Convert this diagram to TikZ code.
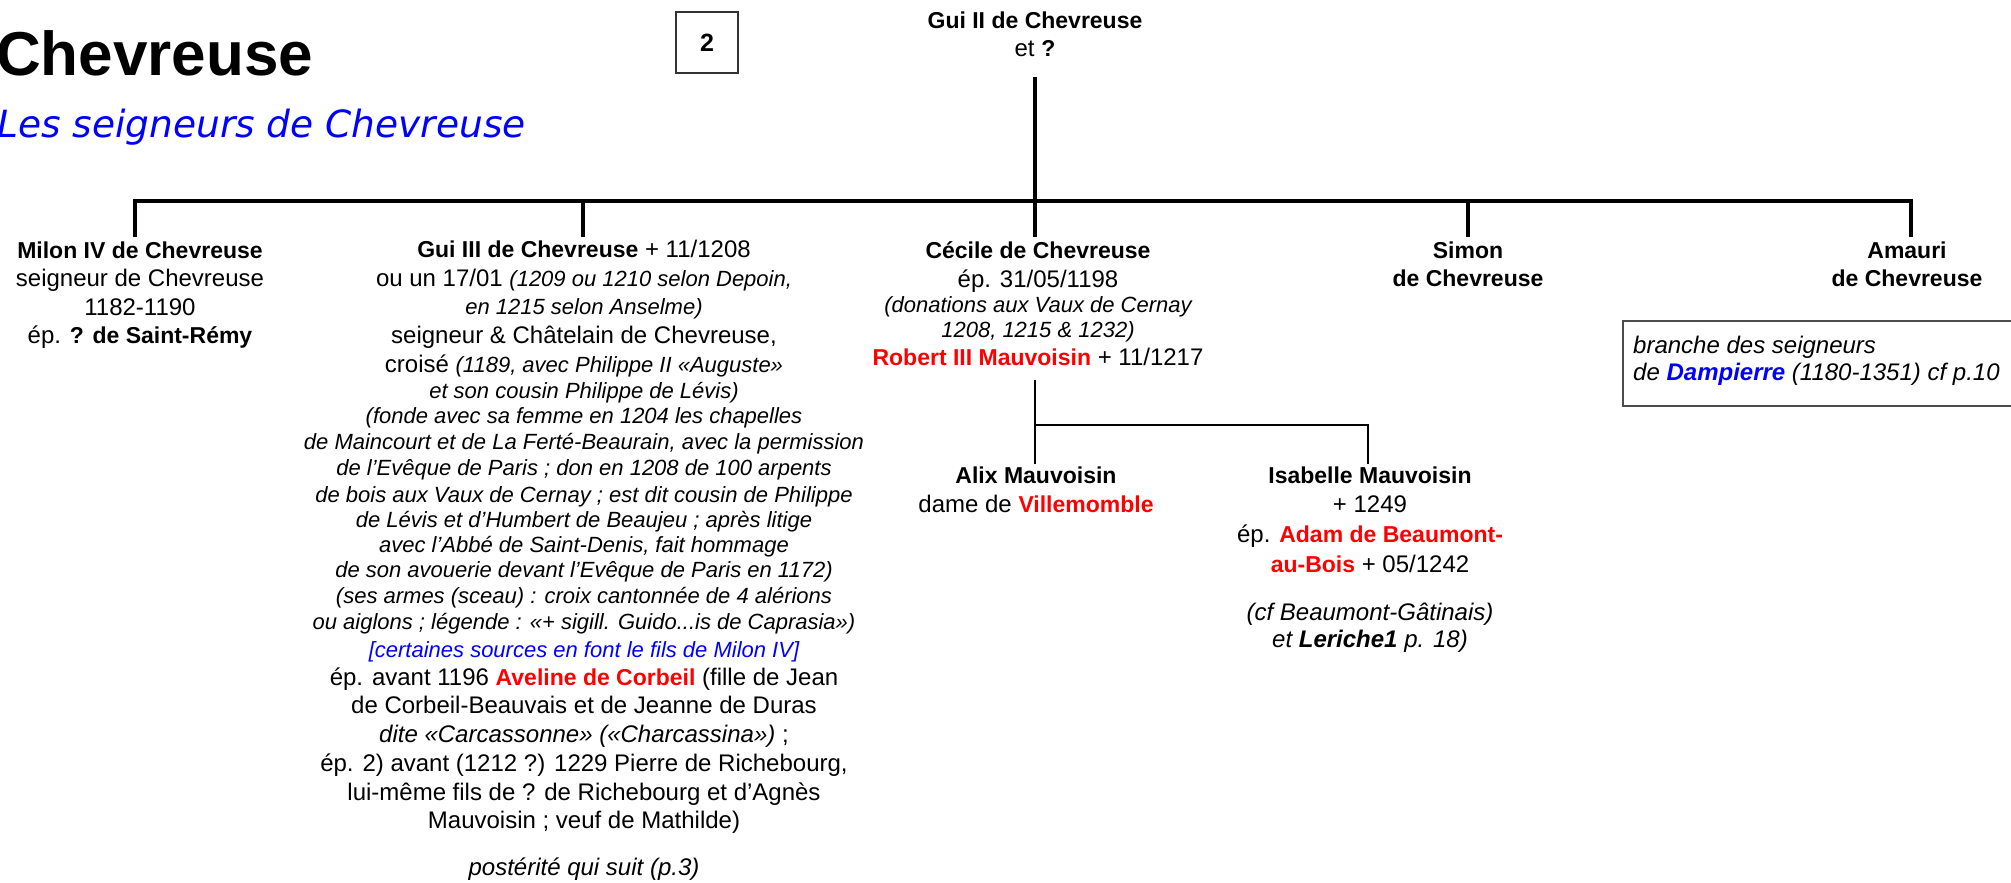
\documentclass[tikz,border=0pt]{standalone}
\usepackage{fontspec}
\setmainfont{Liberation Sans}
\newfontfamily\titrefont{DejaVu Sans}[ItalicFont={DejaVu Sans Oblique}]
\newcommand\nom[1]{{\fontsize{23}{28}\selectfont\bfseries #1}}
\newcommand\rem[1]{{\fontsize{22}{26}\selectfont\itshape #1}}
\newcommand\rouge[1]{\textcolor{red}{\nom{#1}}}

\begin{document}
\begin{tikzpicture}[x=1pt, y=-1pt,
    ligne/.style={anchor=base, inner sep=0pt, font=\fontsize{24}{28}\selectfont},
    trait/.style={line width=3.1pt},
    soustrait/.style={line width=2.5pt}]
    \useasboundingbox (0,0) rectangle (2011,883);

    % titre
    \node (titre) at (-4,75) [anchor=base west, inner sep=0pt, font=\fontsize{62}{70}\selectfont\bfseries] {Chevreuse};
    \node (soustitre) at (-3,137) [anchor=base west, inner sep=0pt, text=blue, font=\titrefont\itshape\fontsize{37.5}{40}\selectfont] {Les seigneurs de Chevreuse};
    \node (numero) at (707,42.5) [draw=black!80, line width=1.5pt, minimum width=62pt, minimum height=61pt, inner sep=0pt] {\fontsize{25}{28}\selectfont\bfseries 2};

    % parents
    \node (guiII) at (1035,29) [ligne] {\nom{Gui II de Chevreuse}};
    \node (guiIIb) at (1035,57) [ligne] {et \nom{?}};

    % enfants
    \node (milon1) at (140,258) [ligne] {\nom{Milon IV de Chevreuse}};
    \node (milon2) at (140,286) [ligne] {seigneur de Chevreuse};
    \node (milon3) at (140,315) [ligne] {1182-1190};
    \node (milon4) at (140,343) [ligne] {ép. \nom{? de Saint-Rémy}};

    \node (gui1) at (584,257) [ligne] {\nom{Gui III de Chevreuse} + 11/1208};
    \node (gui2) at (584,286) [ligne] {ou un 17/01 \rem{(1209 ou 1210 selon Depoin,}};
    \node (gui3) at (584,314) [ligne] {\rem{en 1215 selon Anselme)}};
    \node (gui4) at (584,343) [ligne] {seigneur \& Châtelain de Chevreuse,};
    \node (gui5) at (584,372) [ligne] {croisé \rem{(1189, avec Philippe II «Auguste»}};
    \node (gui6) at (584,398) [ligne] {\rem{et son cousin Philippe de Lévis)}};
    \node (gui7) at (584,423) [ligne] {\rem{(fonde avec sa femme en 1204 les chapelles}};
    \node (gui8) at (584,449) [ligne] {\rem{de Maincourt et de La Ferté-Beaurain, avec la permission}};
    \node (gui9) at (584,475) [ligne] {\rem{de l’Evêque de Paris ; don en 1208 de 100 arpents}};
    \node (gui10) at (584,502) [ligne] {\rem{de bois aux Vaux de Cernay ; est dit cousin de Philippe}};
    \node (gui11) at (584,527) [ligne] {\rem{de Lévis et d’Humbert de Beaujeu ; après litige}};
    \node (gui12) at (584,552) [ligne] {\rem{avec l’Abbé de Saint-Denis, fait hommage}};
    \node (gui13) at (584,577) [ligne] {\rem{de son avouerie devant l’Evêque de Paris en 1172)}};
    \node (gui14) at (584,603) [ligne] {\rem{(ses armes (sceau) : croix cantonnée de 4 alérions}};
    \node (gui15) at (584,629) [ligne] {\rem{ou aiglons ; légende : «+ sigill. Guido...is de Caprasia»)}};
    \node (gui16) at (584,657) [ligne, text=blue] {\rem{[certaines sources en font le fils de Milon IV]}};
    \node (gui17) at (584,685) [ligne] {ép. avant 1196 \rouge{Aveline de Corbeil} (fille de Jean};
    \node (gui18) at (584,713) [ligne] {de Corbeil-Beauvais et de Jeanne de Duras};
    \node (gui19) at (584,742) [ligne] {\textit{dite «Carcassonne» («Charcassina»)} ;};
    \node (gui20) at (584,771) [ligne] {ép. 2) avant (1212 ?) 1229 Pierre de Richebourg,};
    \node (gui21) at (584,800) [ligne] {lui-même fils de ? de Richebourg et d’Agnès};
    \node (gui22) at (584,828) [ligne] {Mauvoisin ; veuf de Mathilde)};
    \node (suite) at (584,875) [ligne] {\textit{postérité qui suit (p.3)}};

    \node (cecile1) at (1038,258) [ligne] {\nom{Cécile de Chevreuse}};
    \node (cecile2) at (1038,287) [ligne] {ép. 31/05/1198};
    \node (cecile3) at (1038,312) [ligne] {\rem{(donations aux Vaux de Cernay}};
    \node (cecile4) at (1038,337) [ligne] {\rem{1208, 1215 \& 1232)}};
    \node (cecile5) at (1038,365) [ligne] {\rouge{Robert III Mauvoisin} + 11/1217};

    \node (simon1) at (1468,258) [ligne] {\nom{Simon}};
    \node (simon2) at (1468,286) [ligne] {\nom{de Chevreuse}};

    \node (amauri1) at (1907,258) [ligne] {\nom{Amauri}};
    \node (amauri2) at (1907,286) [ligne] {\nom{de Chevreuse}};

    \draw [black!70, line width=1.3pt] (1623,321) rectangle (2020,406);
    \node (branche1) at (1633,353) [ligne, anchor=base west] {\textit{branche des seigneurs}};
    \node (branche2) at (1633,380) [ligne, anchor=base west] {\textit{de \textcolor{blue}{\textbf{Dampierre}} (1180-1351) cf p.10}};

    % petits-enfants
    \node (alix1) at (1036,483) [ligne] {\nom{Alix Mauvoisin}};
    \node (alix2) at (1036,512) [ligne] {dame de \rouge{Villemomble}};

    \node (isa1) at (1370,483) [ligne] {\nom{Isabelle Mauvoisin}};
    \node (isa2) at (1370,512) [ligne] {+ 1249};
    \node (isa3) at (1370,542) [ligne] {ép. \rouge{Adam de Beaumont-}};
    \node (isa4) at (1370,572) [ligne] {\rouge{au-Bois} + 05/1242};
    \node (isa5) at (1370,620) [ligne] {\textit{(cf Beaumont-Gâtinais)}};
    \node (isa6) at (1370,647) [ligne] {\textit{et \textbf{Leriche1} p. 18)}};

    % traits
    \coordinate (tronc) at (1035,77);
    \coordinate (barre) at (1035,201);
    \coordinate (d1) at (135,237);
    \coordinate (d2) at (583,237);
    \coordinate (d3) at (1035,237);
    \coordinate (d4) at (1468,237);
    \coordinate (d5) at (1911,237);
    \draw [trait] (tronc) -- (d3);
    \draw [trait] (d1) |- (barre) -| (d5);
    \draw [trait] (d2) -- (d2 |- barre);
    \draw [trait] (d4) -- (d4 |- barre);

    \coordinate (c0) at (1035,380);
    \coordinate (cbarre) at (1035,425);
    \coordinate (c1) at (1035,464);
    \coordinate (c2) at (1368,464);
    \draw [soustrait] (c0) -- (c1);
    \draw [soustrait] (cbarre) -| (c2);
\end{tikzpicture}
\end{document}
